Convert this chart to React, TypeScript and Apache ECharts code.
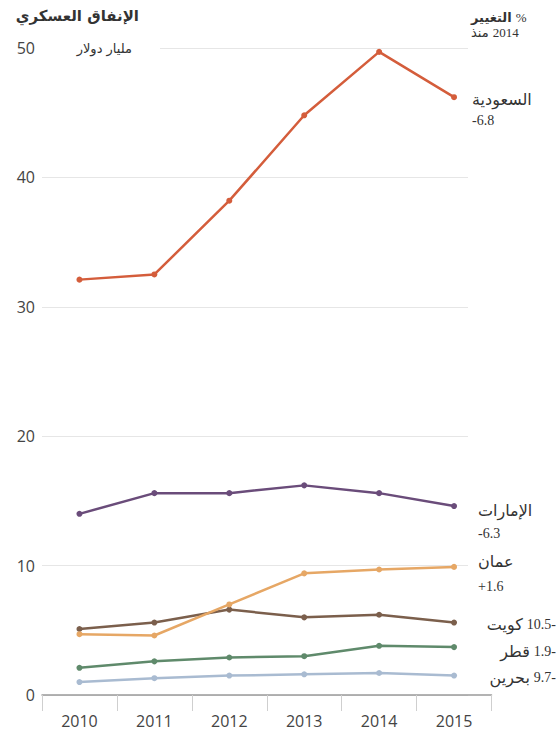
import React, { useEffect, useRef } from "react";
import * as echarts from "echarts";

const years = ["2010", "2011", "2012", "2013", "2014", "2015"];
const saudi = [32.1, 32.5, 38.2, 44.8, 49.7, 46.2];
const uae = [14.0, 15.6, 15.6, 16.2, 15.6, 14.6];
const kuwait = [5.1, 5.6, 6.6, 6.0, 6.2, 5.6];
const oman = [4.7, 4.6, 7.0, 9.4, 9.7, 9.9];
const qatar = [2.1, 2.6, 2.9, 3.0, 3.8, 3.7];
const bahrain = [1.0, 1.3, 1.5, 1.6, 1.7, 1.5];
const yTicks = [0, 10, 20, 30, 40, 50];

const seriesList = [
  { name: "السعودية", data: saudi, color: "#d45d3b" },
  { name: "الإمارات", data: uae, color: "#6a4c7a" },
  { name: "الكويت", data: kuwait, color: "#7b5f4c" },
  { name: "قطر", data: qatar, color: "#5f8a6b" },
  { name: "البحرين", data: bahrain, color: "#a9bbd1" },
  { name: "عمان", data: oman, color: "#e6a765" },
];

const AR = "DejaVu Sans";
const NUM = "Liberation Serif";
const TXT = "#333";

function measure(text: string, font: string): number {
  const c = document.createElement("canvas").getContext("2d");
  if (!c) return text.length * 7;
  c.font = font;
  return c.measureText(text).width;
}

export default function App() {
  const ref = useRef<HTMLDivElement>(null);
  useEffect(() => {
    if (!ref.current) return;
    const chart = echarts.init(ref.current, undefined, { renderer: "svg" });
    const arFont = `16px "${AR}"`;
    const numFont = `14px "${NUM}"`;
    const hdrAr = `13px "${AR}"`;
    const hdrNum = `13px "${NUM}"`;
    const txt = (x: number, y: number, text: string, font: string, align = "left") => ({
      type: "text",
      x,
      y,
      z: 100,
      style: { text, font, fill: TXT, align, verticalAlign: "middle" },
    });
    const pairLeft = (x: number, y: number, a: string, b: string, fa: string, fb: string) => {
      const wa = measure(a, fa);
      return [txt(x, y, a, fa), txt(x + wa + 4, y, b, fb)];
    };
    const pairRight = (x: number, y: number, a: string, b: string, fa: string, fb: string) => {
      const wb = measure(b, fb);
      return [txt(x - wb - 4, y, a, fa, "right"), txt(x, y, b, fb, "right")];
    };
    const option: any = {
      animation: false,
      backgroundColor: "#fff",
      grid: [
        { left: 42, right: 64.5, top: 48, bottom: 41 },
        { left: 42, right: 88, top: 48, bottom: 41 },
      ],
      xAxis: [
        {
          type: "category",
          gridIndex: 0,
          data: years,
          boundaryGap: true,
          axisLine: { lineStyle: { color: "#9a9a9a", width: 1.5 } },
          axisTick: { show: true, length: 16, lineStyle: { color: "#cfcfcf", width: 1 } },
          axisLabel: { fontSize: 16, color: "#444", margin: 18, fontFamily: "Open Sans" },
          splitLine: { show: false },
          z: 5,
        },
        { type: "value", gridIndex: 1, min: 0, max: 1, show: false },
      ],
      yAxis: [
        {
          type: "value",
          gridIndex: 0,
          min: yTicks[0],
          max: yTicks[yTicks.length - 1],
          interval: 10,
          axisLine: { show: false },
          axisTick: { show: false },
          splitLine: { show: false },
          axisLabel: { fontSize: 16, color: "#444", margin: 7, fontFamily: "Open Sans" },
        },
        {
          type: "value",
          gridIndex: 1,
          min: yTicks[0],
          max: yTicks[yTicks.length - 1],
          interval: 10,
          axisLine: { show: false },
          axisTick: { show: false },
          axisLabel: { show: false },
          splitLine: { show: true, lineStyle: { color: "#e6e6e6", width: 1.2 } },
        },
      ],
      series: seriesList.map((s) => ({
        type: "line",
        name: s.name,
        xAxisIndex: 0,
        yAxisIndex: 0,
        data: s.data,
        symbol: "circle",
        symbolSize: 6,
        lineStyle: { color: s.color, width: 2.5 },
        itemStyle: { color: s.color },
        z: 3,
      })),
      graphic: [
        { type: "rect", z: 90, shape: { x: 38, y: 42, width: 122, height: 12 }, style: { fill: "#fff" } },
        txt(139, 16, "الإنفاق العسكري", `bold 15px "${AR}"`, "right"),
        txt(132, 48, "مليار دولار", `13px "${AR}"`, "right"),
        ...pairLeft(471, 17, "التغيير", "%", `bold ${hdrAr}`, hdrNum),
        ...pairLeft(471, 32, "منذ", "2014", hdrAr, hdrNum),
        txt(472, 99, "السعودية", arFont),
        txt(472, 120, "-6.8", numFont),
        txt(478, 510, "الإمارات", arFont),
        txt(478, 533, "-6.3", numFont),
        txt(478, 561, "عمان", arFont),
        txt(478, 586, "+1.6", numFont),
        ...pairRight(556, 624, "كويت", "10.5-", arFont, numFont),
        ...pairRight(556, 651, "قطر", "1.9-", arFont, numFont),
        ...pairRight(556, 677, "بحرين", "9.7-", arFont, numFont),
      ],
    };
    chart.setOption(option);
    return () => chart.dispose();
  }, []);
  return (
    <div
      ref={ref}
      style={{ position: "fixed", left: 0, top: 0, width: 556, height: 736 }}
    />
  );
}
